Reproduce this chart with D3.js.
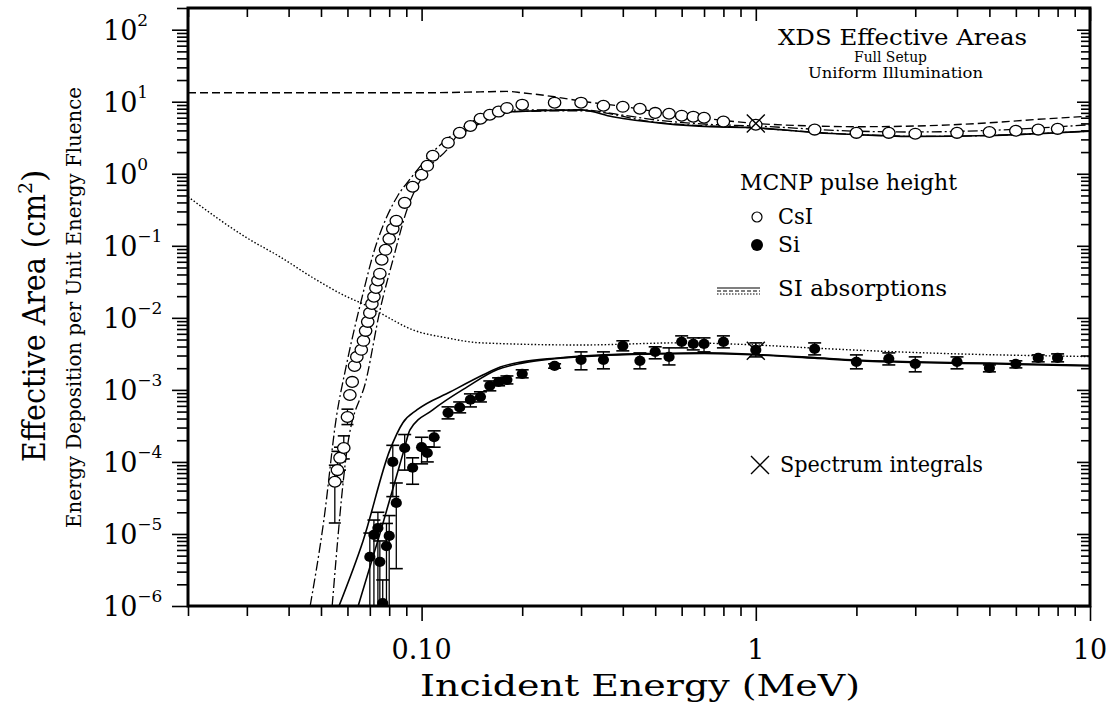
<!DOCTYPE html>
<html><head><meta charset="utf-8">
<script src="https://cdn.jsdelivr.net/npm/d3@7"></script>
<style>body{margin:0;background:#fff}</style>
</head><body>
<svg id="c" width="1109" height="710"></svg>
<script>
// ---------- data ----------
const csiE = [0.055,0.056,0.057,0.0585,0.060,0.061,0.062,0.063,0.064,0.066,0.067,0.068,0.069,0.070,0.071,0.072,0.073,0.074,0.075,0.076,0.078,0.080,0.082,0.084,0.089,0.094,0.10,0.104,0.108,0.12,0.13,0.14,0.15,0.16,0.17,0.18,0.20,0.25,0.30,0.35,0.40,0.45,0.50,0.55,0.60,0.65,0.70,0.80,1.0,1.5,2.0,2.5,3.0,4.0,5.0,6.0,7.0,8.0];
const csiV = [5.3e-5,7.7e-5,1.14e-4,1.56e-4,4.2e-4,8.5e-4,1.29e-3,2.15e-3,2.87e-3,3.6e-3,4.8e-3,6.6e-3,8.8e-3,1.17e-2,1.56e-2,1.96e-2,2.6e-2,3.3e-2,4.1e-2,6.4e-2,8.8e-2,0.125,0.172,0.222,0.395,0.66,0.97,1.29,1.78,2.7,3.7,4.6,5.8,6.6,7.3,8.2,9.1,9.7,9.7,8.8,8.5,8.0,7.0,6.8,6.4,6.2,6.0,5.3,4.8,4.1,3.7,3.7,3.6,3.7,3.8,3.95,4.1,4.2];
const csiErrE  = [0.055,0.056,0.057,0.0585,0.060];
const csiErrLo = [1.42e-5,5.3e-5,7.7e-5,1.1e-4,3.3e-4];
const csiErrHi = [9e-5,1.4e-4,1.6e-4,2.3e-4,5.4e-4];

const siE  = [0.070,0.072,0.074,0.075,0.0765,0.0785,0.080,0.082,0.084,0.089,0.094,0.100,0.104,0.109,0.12,0.13,0.14,0.15,0.16,0.17,0.18,0.20,0.25,0.30,0.35,0.40,0.45,0.50,0.55,0.60,0.65,0.70,0.80,1.0,1.5,2.0,2.5,3.0,4.0,5.0,6.0,7.0,8.0];
const siV  = [4.8e-6,9.7e-6,1.21e-5,4.1e-6,1.1e-6,6.8e-6,9.4e-6,1.0e-4,2.7e-5,1.56e-4,8.3e-5,1.6e-4,1.33e-4,2.2e-4,4.8e-4,5.7e-4,7.3e-4,8.0e-4,1.14e-3,1.29e-3,1.38e-3,1.67e-3,2.15e-3,2.61e-3,2.61e-3,4.08e-3,2.53e-3,3.37e-3,2.87e-3,4.64e-3,4.35e-3,4.35e-3,4.64e-3,3.59e-3,3.71e-3,2.45e-3,2.70e-3,2.30e-3,2.45e-3,2.02e-3,2.30e-3,2.78e-3,2.78e-3];
const siLo = [5e-7,5e-7,5e-7,5e-7,5e-7,5e-7,5e-7,3.3e-5,3.3e-6,7.7e-5,4.9e-5,9.4e-5,1.0e-4,1.6e-4,3.96e-4,4.8e-4,5.8e-4,6.8e-4,9.7e-4,1.14e-3,1.21e-3,1.47e-3,2.0e-3,1.9e-3,1.96e-3,3.48e-3,1.96e-3,2.70e-3,2.22e-3,3.83e-3,3.59e-3,3.37e-3,3.83e-3,2.87e-3,3.06e-3,1.96e-3,2.22e-3,1.78e-3,1.96e-3,1.78e-3,2.02e-3,2.45e-3,2.45e-3];
const siHi = [1.03e-5,1.56e-5,2.0e-5,8e-6,2.3e-6,1.4e-5,1.8e-5,1.7e-4,5.1e-5,2.4e-4,1.14e-4,2.2e-4,1.62e-4,2.7e-4,5.81e-4,6.8e-4,8.8e-4,9.4e-4,1.33e-3,1.47e-3,1.56e-3,1.9e-3,2.3e-3,3.37e-3,3.37e-3,4.8e-3,3.26e-3,3.96e-3,3.83e-3,5.62e-3,5.27e-3,5.27e-3,5.62e-3,4.49e-3,4.49e-3,3.06e-3,3.26e-3,2.87e-3,2.87e-3,2.22e-3,2.53e-3,3.06e-3,3.16e-3];

const specE = [1.0, 1.0];
const specV = [5.0, 3.5e-3];

// SI absorption curves
const csiDashE = [0.02,0.1,0.15,0.18,0.2,0.25,0.3,0.4,0.5,0.6,0.8,1.0,1.5,2,3,5,7,10];
const csiDashV = [13.3,13.3,13.7,13.9,13.3,11.7,10.2,8.6,7.3,6.5,5.5,5.0,4.6,4.5,4.6,5.1,5.7,6.3];
const csiDdAE = [0.0464,0.051,0.0556,0.0595,0.0664,0.0723,0.0783,0.0845,0.093,0.108,0.13,0.16,0.2,0.3,0.4,0.5,0.7,1,2,3,5,10];
const csiDdAV = [1e-6,1.56e-5,4.2e-4,2.15e-3,1.96e-2,8.8e-2,0.24,0.48,0.88,2.0,4.1,6.8,7.7,7.7,6.5,5.6,4.9,4.6,3.9,3.8,4.0,4.8];
const csiDdBE = [0.054,0.0598,0.0686,0.0751,0.0821,0.0904,0.104,0.119,0.13,0.143,0.16,0.187,0.3,0.5,1,2,3,5,10];
const csiDdBV = [1e-6,1.47e-4,1.52e-3,1.29e-2,6.4e-2,0.316,1.14,2.15,3.71,4.5,6.4,7.26,7.5,5.2,4.3,3.5,3.3,3.4,3.9];
const csiSolidE = [0.133,0.143,0.187,0.3,0.373,0.528,0.73,0.96,1.52,2,3,5,10];
const csiSolidV = [3.71,4.5,7.26,7.7,6.19,5.0,4.5,4.4,3.71,3.5,3.3,3.4,3.9];
const siDotE = [0.02,0.03,0.0377,0.0473,0.0598,0.0668,0.0751,0.0942,0.119,0.15,0.3,0.6,1,1.5,3,10];
const siDotV = [0.48,0.129,0.0703,0.036,0.0196,0.0156,0.0117,0.0068,0.00527,0.0045,4.2e-3,4.5e-3,4.2e-3,3.8e-3,3.3e-3,2.9e-3];
const siSolAE = [0.0566,0.0668,0.0804,0.0879,0.097,0.122,0.153,0.172,0.2,0.25,0.35,0.5,0.7,1,1.5,2,3,5,10];
const siSolAV = [1e-6,8e-6,1.47e-4,3.5e-4,5.3e-4,9.4e-4,1.62e-3,2.08e-3,2.45e-3,2.75e-3,3.06e-3,3.2e-3,3.26e-3,3.1e-3,2.8e-3,2.6e-3,2.45e-3,2.35e-3,2.2e-3];
const siSolBE = [0.0646,0.0756,0.0886,0.0923,0.108,0.137,0.168,0.2,0.25,0.35,0.5,0.7,1,1.5,2,3,5,10];
const siSolBV = [1e-6,1.13e-5,1.47e-4,2.78e-4,5.27e-4,1.1e-3,1.9e-3,2.35e-3,2.7e-3,3.0e-3,3.15e-3,3.2e-3,3.05e-3,2.75e-3,2.55e-3,2.4e-3,2.3e-3,2.15e-3];

const xTickVals = [0.1, 1, 10];
const xTickLabels = ["0.10", "1", "10"];
const yExps = [-6,-5,-4,-3,-2,-1,0,1,2];

// ---------- chart ----------
const M = {l:188, r:1090, t:8, b:606};
const x = d3.scaleLog().domain([0.02, 10]).range([M.l, M.r]);
const y = d3.scaleLog().domain([1e-6, 200]).range([M.b, M.t]);
const svg = d3.select('#c');
const FONT = "'DejaVu Serif', serif";
svg.append('rect').attr('width',1109).attr('height',710).attr('fill','#fff');
svg.append('defs').append('clipPath').attr('id','clip').append('rect')
  .attr('x',M.l).attr('y',M.t).attr('width',M.r-M.l).attr('height',M.b-M.t);

function logTicks(lo, hi){
  const out=[];
  for(let d=-7; d<=3; d++) for(let k=1;k<=9;k++){const v=k*Math.pow(10,d); if(v>=lo*0.999 && v<=hi*1.001) out.push({v, major:k===1});}
  return out;
}
const xt = logTicks(0.02, 10);
const yt = logTicks(1e-6, 200);
const xMaj = xt.filter(d=>d.major).map(d=>d.v), xMin = xt.filter(d=>!d.major).map(d=>d.v);
const yMaj = yt.filter(d=>d.major).map(d=>d.v), yMin = yt.filter(d=>!d.major).map(d=>d.v);

function addAxis(gen, vals, size, tr){
  const g = svg.append('g').attr('transform', tr)
    .call(gen.tickValues(vals).tickSize(size).tickFormat(''));
  g.select('.domain').remove();
  g.selectAll('line').attr('stroke','#000').attr('stroke-width',1.6);
}
addAxis(d3.axisBottom(x), xMaj, 15, `translate(0,${M.b})`);
addAxis(d3.axisBottom(x), xMin, 10, `translate(0,${M.b})`);
addAxis(d3.axisTop(x), xMaj, -13, `translate(0,${M.t})`);
addAxis(d3.axisTop(x), xMin, -9, `translate(0,${M.t})`);
addAxis(d3.axisLeft(y), yMaj, 16, `translate(${M.l},0)`);
addAxis(d3.axisLeft(y), yMin, 11, `translate(${M.l},0)`);
addAxis(d3.axisRight(y), yMaj, -13, `translate(${M.r},0)`);
addAxis(d3.axisRight(y), yMin, -9, `translate(${M.r},0)`);

svg.append('rect').attr('x',M.l).attr('y',M.t).attr('width',M.r-M.l).attr('height',M.b-M.t)
  .attr('fill','none').attr('stroke','#000').attr('stroke-width',3);

const plot = svg.append('g').attr('clip-path','url(#clip)');
const line = d3.line().x(d=>x(d[0])).y(d=>y(d[1])).curve(d3.curveMonotoneX);
function curve(E, V, dash, w){
  plot.append('path').datum(E.map((e,i)=>[e,V[i]])).attr('d', line)
    .attr('fill','none').attr('stroke','#000').attr('stroke-width', w||1.4)
    .attr('stroke-dasharray', dash||null);
}
curve(csiDashE, csiDashV, '8,4', 1.4);
curve(csiDdAE, csiDdAV, '10,3,2,3', 1.3);
curve(csiDdBE, csiDdBV, '10,3,2,3', 1.3);
curve(csiSolidE, csiSolidV, null, 1.7);
curve(siDotE, siDotV, '1.5,2', 1.4);
curve(siSolAE, siSolAV, null, 1.6);
curve(siSolBE, siSolBV, null, 1.6);

function errBars(E, lo, hi, half){
  E.forEach((e,i)=>{
    const cx=x(e), y1=y(lo[i]), y2=y(hi[i]);
    plot.append('line').attr('x1',cx).attr('x2',cx).attr('y1',y1).attr('y2',y2).attr('stroke','#000').attr('stroke-width',1.3);
    [y1,y2].forEach(yy=>plot.append('line').attr('x1',cx-half).attr('x2',cx+half).attr('y1',yy).attr('y2',yy).attr('stroke','#000').attr('stroke-width',1.6));
  });
}
errBars(csiErrE, csiErrLo, csiErrHi, 6);
errBars(siE, siLo, siHi, 6.5);

csiE.forEach((e,i)=>plot.append('ellipse').attr('cx',x(e)).attr('cy',y(csiV[i])).attr('rx',6.2).attr('ry',5.4)
  .attr('fill','#fff').attr('stroke','#000').attr('stroke-width',1.3));
siE.forEach((e,i)=>plot.append('ellipse').attr('cx',x(e)).attr('cy',y(siV[i])).attr('rx',5.6).attr('ry',5.1)
  .attr('fill','#000'));
function cross(cx, cy, h, g){
  (g||svg).append('path').attr('d',`M${cx-h},${cy-h}L${cx+h},${cy+h}M${cx-h},${cy+h}L${cx+h},${cy-h}`)
   .attr('stroke','#000').attr('stroke-width',1.4).attr('fill','none');
}
specE.forEach((e,i)=>cross(x(e), y(specV[i]), 9, plot));

function txt(xp, yp, s, size, len, anchor){
  const t = svg.append('text').attr('x',xp).attr('y',yp).attr('font-family',FONT).attr('font-size',size)
    .attr('text-anchor',anchor||'start').text(s);
  if(len) t.attr('textLength',len).attr('lengthAdjust','spacingAndGlyphs');
  return t;
}

xTickVals.forEach((v,i)=>txt(x(v), 659, xTickLabels[i], 27, null, 'middle'));
yExps.forEach(p=>{
  const t = svg.append('text').attr('x',103).attr('y',y(Math.pow(10,p))+10)
    .attr('font-family',FONT).attr('font-size',27);
  t.append('tspan').text('10');
  t.append('tspan').attr('dy',-14).attr('font-size',17).text(p<0?('\u2212'+(-p)):String(p));
});

// axis titles
txt(640, 696, 'Incident Energy (MeV)', 30, 440, 'middle');
const yt1 = svg.append('text').attr('transform','translate(45,462) rotate(-90)')
  .attr('font-family',FONT).attr('font-size',32);
yt1.append('tspan').attr('textLength',268).attr('lengthAdjust','spacingAndGlyphs').text('Effective Area (cm');
yt1.append('tspan').attr('dy',-13).attr('font-size',19).text('2');
yt1.append('tspan').attr('dy',13).text(')');
svg.append('text').attr('transform','translate(81,528) rotate(-90)')
  .attr('font-family',FONT).attr('font-size',21).attr('textLength',441).attr('lengthAdjust','spacingAndGlyphs')
  .text('Energy Deposition per Unit Energy Fluence');

// title block
txt(778, 45, 'XDS Effective Areas', 23, 249);
txt(854, 62, 'Full Setup', 15, 73);
txt(808, 78, 'Uniform Illumination', 15, 175);

// legend
txt(740, 190, 'MCNP pulse height', 22, 217);
svg.append('circle').attr('cx',757).attr('cy',217).attr('r',5).attr('fill','#fff').attr('stroke','#000').attr('stroke-width',1.2);
txt(778, 224, 'CsI', 22, 35);
svg.append('circle').attr('cx',757).attr('cy',245).attr('r',6).attr('fill','#000');
txt(778, 252, 'Si', 22, 22);
[[288,null],[291,'4,2'],[294,'1.5,1.5']].forEach(([yy,da])=>svg.append('line').attr('x1',717).attr('x2',760).attr('y1',yy).attr('y2',yy)
  .attr('stroke','#000').attr('stroke-width',1.2).attr('stroke-dasharray',da));
txt(778, 296, 'SI absorptions', 22, 169);
cross(760, 465, 9);
txt(780, 472, 'Spectrum integrals', 22, 203);
</script>
</body></html>
